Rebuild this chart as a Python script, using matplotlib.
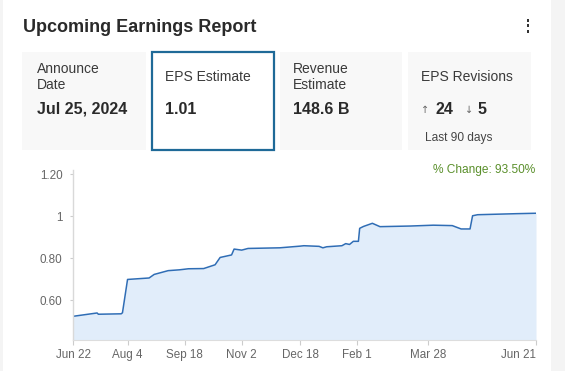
import matplotlib
matplotlib.use("Agg")
import matplotlib.pyplot as plt
from matplotlib.patches import Rectangle
import pandas as pd

# ---------------- data ----------------
dates = ["2023-06-22", "2023-07-11", "2023-07-12", "2023-07-30", "2023-07-31",
         "2023-08-04", "2023-08-21", "2023-08-25", "2023-09-05", "2023-09-14",
         "2023-09-21", "2023-10-03", "2023-10-12", "2023-10-16", "2023-10-25",
         "2023-10-27", "2023-11-02", "2023-11-07", "2023-12-02", "2023-12-18",
         "2023-12-21", "2024-01-02", "2024-01-05", "2024-01-08", "2024-01-20",
         "2024-01-23", "2024-01-26", "2024-01-29", "2024-02-02", "2024-02-03",
         "2024-02-06", "2024-02-13", "2024-02-19", "2024-03-14", "2024-04-01",
         "2024-04-16", "2024-04-23", "2024-04-30", "2024-05-02", "2024-05-06",
         "2024-06-06", "2024-06-21"]
eps = [0.523, 0.539, 0.533, 0.535, 0.540,
       0.699, 0.706, 0.723, 0.741, 0.745,
       0.750, 0.751, 0.769, 0.804, 0.816,
       0.844, 0.839, 0.847, 0.850, 0.858,
       0.860, 0.857, 0.850, 0.855, 0.860,
       0.870, 0.866, 0.881, 0.881, 0.943,
       0.952, 0.967, 0.951, 0.954, 0.958,
       0.956, 0.940, 0.940, 1.003, 1.008,
       1.013, 1.015]
xtick_dates = ["2023-06-22", "2023-08-04", "2023-09-18", "2023-11-02",
               "2023-12-18", "2024-02-01", "2024-03-28", "2024-06-21"]
xtick_labels = ["Jun 22", "Aug 4", "Sep 18", "Nov 2", "Dec 18", "Feb 1", "Mar 28", "Jun 21"]
ytick_vals = [0.60, 0.80, 1.0, 1.20]
ytick_labels = ["0.60", "0.80", "1", "1.20"]

card_labels = [["Announce", "Date"], ["EPS Estimate"], ["Revenue", "Estimate"], ["EPS Revisions"]]
card_values = ["Jul 25, 2024", "1.01", "148.6 B", None]
revisions_up = "24"
revisions_down = "5"
title = "Upcoming Earnings Report"
pct_change = "% Change: 93.50%"

# ---------------- figure ----------------
W, H = 565, 371
fig = plt.figure(figsize=(W / 100, H / 100), dpi=100)
fig.patch.set_facecolor("white")
FONT = ["Liberation Sans", "DejaVu Sans"]


def fx(x):
    return x / W


def fy(y):
    return 1 - y / H


def rect(x0, y0, x1, y1, **kw):
    fig.patches.append(Rectangle((fx(x0), fy(y1)), fx(x1) - fx(x0), fy(y0) - fy(y1),
                                 transform=fig.transFigure, figure=fig, **kw))


# side strips
rect(0, 0, 3, H, facecolor="#f4f4f4", edgecolor="none")
rect(551, 0, W, H, facecolor="#f4f4f4", edgecolor="none")

# title
fig.text(fx(23), fy(32), title, family=FONT, fontsize=13, fontweight="bold",
         color="#2a2a2a", va="baseline", ha="left")
# kebab menu
for yy in (19, 24.5, 30):
    rect(526.5, yy, 529, yy + 2.5, facecolor="#333333", edgecolor="none")

# cards
boxes = [(22, 146), (152, 274), (280, 402), (408, 531)]
text_x = [37, 165, 293, 421]
for i, (x0, x1) in enumerate(boxes):
    if i == 1:
        rect(x0, 52, x1, 150, facecolor="white", edgecolor="#1f6a98", linewidth=1.6)
    else:
        rect(x0, 52, x1, 150, facecolor="#f8f8f8", edgecolor="none")
    tx = text_x[i]
    labs = card_labels[i]
    if len(labs) == 2:
        fig.text(fx(tx), fy(73), labs[0], family=FONT, fontsize=10, color="#3a3a3a", va="baseline")
        fig.text(fx(tx), fy(89), labs[1], family=FONT, fontsize=10, color="#3a3a3a", va="baseline")
    else:
        fig.text(fx(tx), fy(81), labs[0], family=FONT, fontsize=10, color="#3a3a3a", va="baseline")
    if card_values[i] is not None:
        fig.text(fx(tx), fy(114), card_values[i], family=FONT, fontsize=11.5,
                 fontweight="bold", color="#2a2a2a", va="baseline")

# revisions
fig.text(fx(421), fy(113), "↑", family=["DejaVu Sans"], fontsize=7, color="#666666", va="baseline")
fig.text(fx(435), fy(114), revisions_up, family=FONT, fontsize=11.5, fontweight="bold",
         color="#2a2a2a", va="baseline")
fig.text(fx(465), fy(113), "↓", family=["DejaVu Sans"], fontsize=7, color="#666666", va="baseline")
fig.text(fx(478), fy(114), revisions_down, family=FONT, fontsize=11.5, fontweight="bold",
         color="#2a2a2a", va="baseline")
fig.text(fx(425), fy(141), "Last 90 days", family=FONT, fontsize=8.6, color="#444444", va="baseline")

# ---------------- chart ----------------
ax = fig.add_axes([fx(73), fy(340), fx(536) - fx(73), fy(170.3) - fy(340)])
ax.set_facecolor("none")
x = pd.to_datetime(dates)
ax.fill_between(x, eps, 0, color="#e1edfa", linewidth=0)
ax.plot(x, eps, color="#2f6db5", linewidth=1.1)
ax.set_ylim(0.41, 1.22)
ax.set_xlim(pd.Timestamp(xtick_dates[0]), pd.Timestamp(xtick_dates[-1]))

ax.set_yticks(ytick_vals)
ax.set_yticklabels(ytick_labels, family=FONT, fontsize=8.4, color="#666666")
ax.set_xticks(pd.to_datetime(xtick_dates))
ax.set_xticklabels(xtick_labels, family=FONT, fontsize=8.4, color="#666666")
ax.get_xticklabels()[-1].set_ha("right")
ax.tick_params(axis="y", length=2.5, color="#cccccc", pad=5)
ax.tick_params(axis="x", length=3.5, color="#cccccc", pad=3)

for s in ("top", "right"):
    ax.spines[s].set_visible(False)
ax.spines["left"].set_color("#d9d9d9")
ax.spines["bottom"].set_color("#dddddd")
ax.spines["left"].set_linewidth(1)
ax.spines["bottom"].set_linewidth(0.8)

fig.text(fx(535), fy(173), pct_change, family=FONT, fontsize=8.6, color="#5a8f2b",
         ha="right", va="baseline")

fig.savefig("out.png", dpi=100)
